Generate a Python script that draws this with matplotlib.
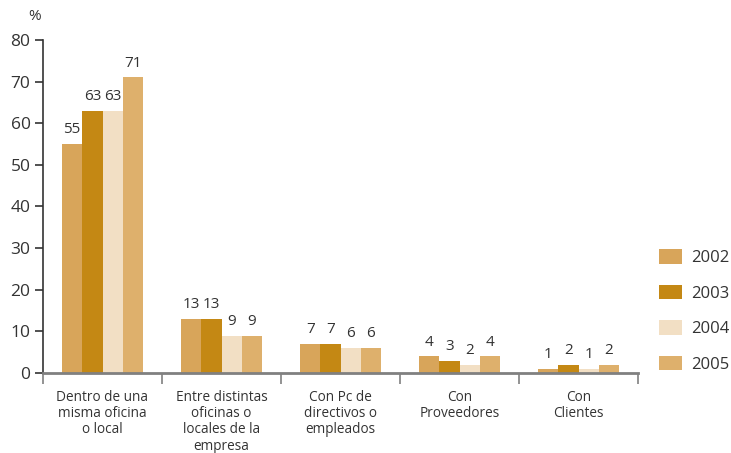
import matplotlib
matplotlib.use("Agg")
import matplotlib.pyplot as plt
import numpy as np

plt.rcParams['font.family'] = ['Open Sans', 'DejaVu Sans']

categorias = ["Dentro de una\nmisma oficina\no local",
              "Entre distintas\noficinas o\nlocales de la\nempresa",
              "Con Pc de\ndirectivos o\nempleados",
              "Con\nProveedores",
              "Con\nClientes"]
anios = ["2002", "2003", "2004", "2005"]
v2002 = [55, 13, 7, 4, 1]
v2003 = [63, 13, 7, 3, 2]
v2004 = [63, 9, 6, 2, 1]
v2005 = [71, 9, 6, 4, 2]
series = [v2002, v2003, v2004, v2005]
colores = ["#D8A55A", "#C48814", "#F2DFC4", "#DEB06C"]

fig = plt.figure(figsize=(7.31, 4.53), dpi=100)
ax = fig.add_axes([43/731, 1-373/453, 595/731, 333/453])

x = np.arange(len(categorias))
w = 0.17
for i, (vals, col) in enumerate(zip(series, colores)):
    pos = x + (i - 1.5) * w
    ax.bar(pos, vals, width=w, color=col, label=anios[i], zorder=2)
    for p, v in zip(pos, vals):
        ax.text(p, v + 1.6, str(v), ha='center', va='bottom',
                fontsize=11, color='#333333')

ax.set_xlim(-0.5, len(categorias) - 0.5)
ax.set_ylim(0, 80)
ax.set_yticks(range(0, 81, 10))
ax.tick_params(axis='y', direction='out', length=6, width=1.2,
               color='#333333', labelsize=12.5, labelcolor='#333333', pad=3)

# separadores entre categorías en el eje x
ax.set_xticks(np.arange(-0.5, len(categorias), 1.0))
ax.set_xticklabels([])
ax.tick_params(axis='x', direction='out', length=8, width=1.2, color='#808080')
for xi, lab in zip(x, categorias):
    ax.text(xi, -4.0, lab, ha='center', va='top', fontsize=9.8,
            color='#333333', linespacing=1.12)

for s in ['top', 'right']:
    ax.spines[s].set_visible(False)
ax.spines['left'].set_color('#333333')
ax.spines['left'].set_linewidth(1.2)
ax.spines['bottom'].set_color('#808080')
ax.spines['bottom'].set_linewidth(2)

fig.text(35/731, 1-16/453, "%", ha='center', va='center', fontsize=11, color='#333333')

ax.legend(loc='upper left', bbox_to_anchor=(659/731, 1-249/453),
          bbox_transform=fig.transFigure, frameon=False, fontsize=12,
          handlelength=1.4, handleheight=1.0, handletextpad=0.5,
          labelspacing=1.1, borderpad=0, borderaxespad=0,
          labelcolor='#333333')

fig.savefig("out.png", dpi=100)
